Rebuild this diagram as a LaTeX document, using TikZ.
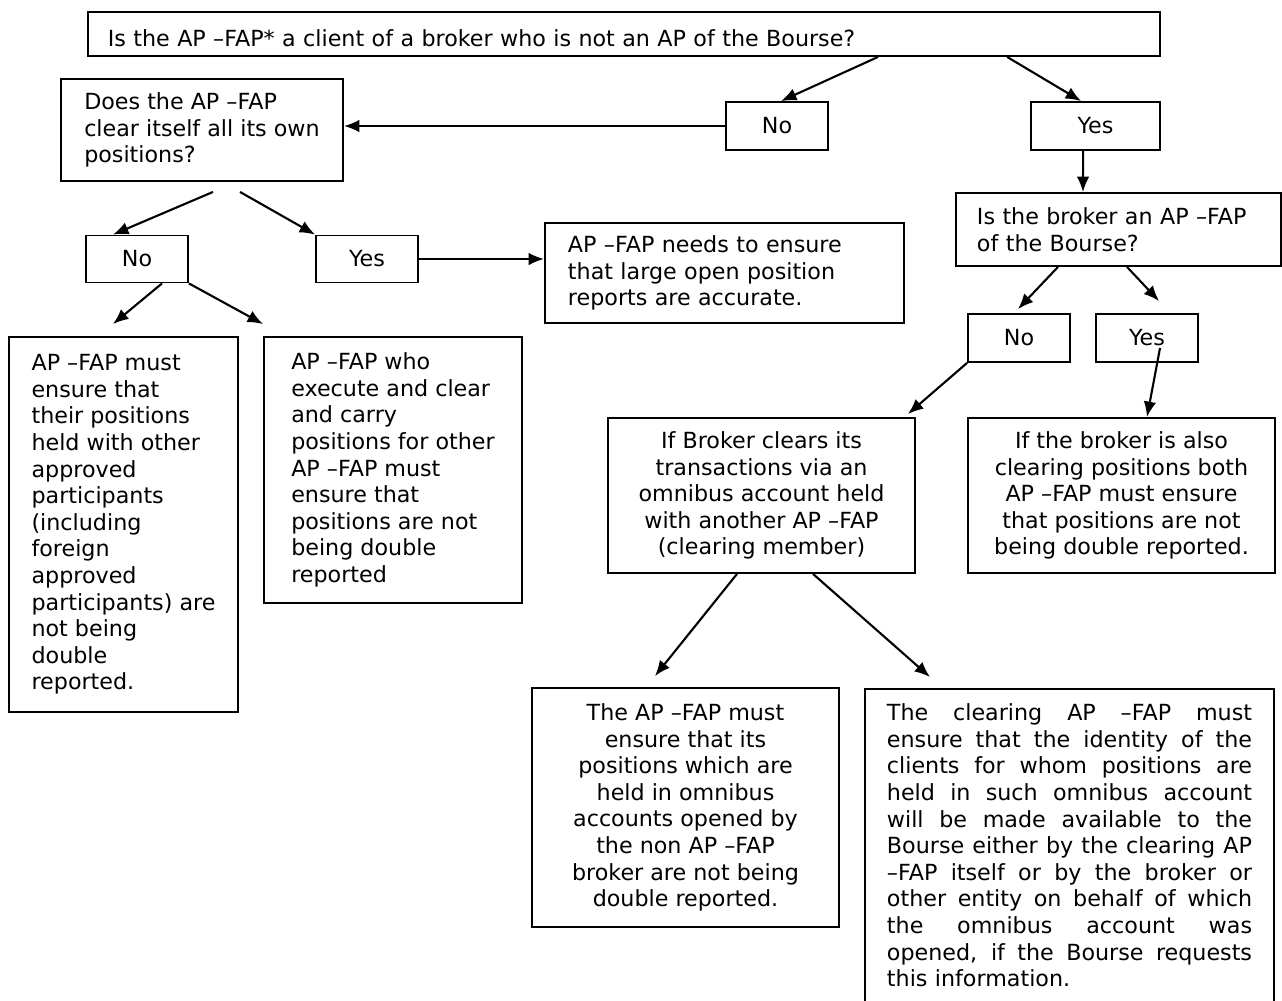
\documentclass[tikz,border=0pt]{standalone}
\usepackage{fontspec}
\setmainfont{DejaVu Sans}
\usetikzlibrary{arrows.meta}
\newcommand{\jline}[1]{{\spaceskip=\fontdimen2\font plus 1fil\makebox[9.125cm][s]{#1}}\\}

\begin{document}
\begin{tikzpicture}[x=0.025cm,y=-0.025cm,>={Latex[length=11pt,width=9pt]},line width=1.5pt,
        box/.style={draw,line width=1.3pt,inner sep=0pt,font=\fontsize{15.8}{18.9}\selectfont},
        leftbox/.style={box,align=left},
        midbox/.style={box,align=center}]
        \useasboundingbox (0,0) rectangle (1282,1000);
        \node[leftbox,text width=25.8cm,inner xsep=0.5cm,minimum height=1.1cm,text height=0.62cm] (q1) at (624,34) {Is the AP –FAP* a client of a broker who is not an AP of the Bourse?};
        \node[midbox,minimum width=2.55cm,minimum height=1.2cm] (no1) at (777,126) {No};
        \node[midbox,minimum width=3.225cm,minimum height=1.2cm] (yes1) at (1095.5,126) {Yes};
        \node[leftbox,minimum width=7.05cm,minimum height=2.55cm] (q2) at (202,130) {Does the AP –FAP\\clear itself all its own\\positions?};
        \node[leftbox,text width=7.075cm,inner xsep=0.525cm,minimum height=1.825cm] (q3) at (1118.5,229.5) {Is the broker an AP –FAP\\of the Bourse?};
        \node[midbox,minimum width=2.55cm,minimum height=1.175cm] (no2) at (137,259) {No};
        \node[midbox,minimum width=2.55cm,minimum height=1.175cm] (yes2) at (367,259) {Yes};
        \node[leftbox,text width=7.825cm,inner xsep=0.575cm,minimum height=2.5cm] (needs) at (724.5,273) {AP –FAP needs to ensure\\that large open position\\reports are accurate.};
        \node[leftbox,minimum width=5.725cm,minimum height=9.375cm] (lbox) at (123.5,524.5) {AP –FAP must\\ensure that\\their positions\\held with other\\approved\\participants\\(including\\foreign\\approved\\participants) are\\not being\\double\\reported.};
        \node[leftbox,minimum width=6.45cm,minimum height=6.65cm] (mbox) at (393,470) {AP –FAP who\\execute and clear\\and carry\\positions for other\\AP –FAP must\\ensure that\\positions are not\\being double\\reported};
        \node[midbox,minimum width=2.55cm,minimum height=1.2cm] (no3) at (1019,338) {No};
        \node[midbox,minimum width=2.55cm,minimum height=1.2cm] (yes3) at (1147,338) {Yes};
        \node[midbox,minimum width=7.675cm,minimum height=3.875cm] (ibox) at (761.5,495.5) {If Broker clears its\\transactions via an\\omnibus account held\\with another AP –FAP\\(clearing member)};
        \node[midbox,minimum width=7.675cm,minimum height=3.875cm] (abox) at (1121.5,495.5) {If the broker is also\\clearing positions both\\AP –FAP must ensure\\that positions are not\\being double reported.};
        \node[midbox,minimum width=7.675cm,minimum height=5.975cm] (apbox) at (685.5,807.5) {The AP –FAP must\\ensure that its\\positions which are\\held in omnibus\\accounts opened by\\the non AP –FAP\\broker are not being\\double reported.};
        \node[leftbox,anchor=north,text width=9.125cm,inner xsep=0.55cm,inner ysep=0.375cm,text depth=7.1cm] (cbox) at (1069.5,688) {\jline{The clearing AP –FAP must}\jline{ensure that the identity of the}\jline{clients for whom positions are}\jline{held in such omnibus account}\jline{will be made available to the}\jline{Bourse either by the clearing AP}\jline{–FAP itself or by the broker or}\jline{other entity on behalf of which}\jline{the omnibus account was}\jline{opened, if the Bourse requests}this information.};
        \draw[->] ([xshift=6.35cm]q1.south) -- ([xshift=0.1cm]no1.north);
        \draw[->] ([xshift=9.575cm]q1.south) -- ([xshift=-0.36cm]yes1.north);
        \draw[->] (no1.west) -- (no1.west -| q2.east);
        \draw[->] ([xshift=-0.31cm]yes1.south) -- ([xshift=-0.8875cm]q3.north);
        \draw[->] ([xshift=0.275cm,yshift=-0.25cm]q2.south) -- ([xshift=-0.6cm]no2.north);
        \draw[->] ([xshift=0.95cm,yshift=-0.25cm]q2.south) -- (yes2.north west);
        \draw[->] (yes2.east) -- (yes2.east -| needs.west);
        \draw[->] ([xshift=0.625cm]no2.south) -- ([xshift=-0.2625cm,yshift=0.3cm]lbox.north);
        \draw[->] (no2.south east) -- ([yshift=0.3cm]mbox.north west);
        \draw[->] ([xshift=-1.5125cm]q3.south) -- ([xshift=-0.025cm,yshift=0.1cm]no3.north);
        \draw[->] ([xshift=0.2125cm]q3.south) -- ([xshift=0.3cm,yshift=0.3cm]yes3.north);
        \draw[->] (no3.south west) -- ([xshift=-0.2cm,yshift=0.075cm]ibox.north east);
        \draw[->] ([xshift=0.325cm,yshift=-0.25cm]yes3.center) -- ([xshift=0.6375cm]abox.north);
        \draw[->] ([xshift=-0.6125cm]ibox.south) -- ([xshift=-0.7625cm,yshift=0.275cm]apbox.north);
        \draw[->] ([xshift=1.2875cm]ibox.south) -- ([xshift=-3.4875cm,yshift=0.275cm]cbox.north);
    \end{tikzpicture}
\end{document}
